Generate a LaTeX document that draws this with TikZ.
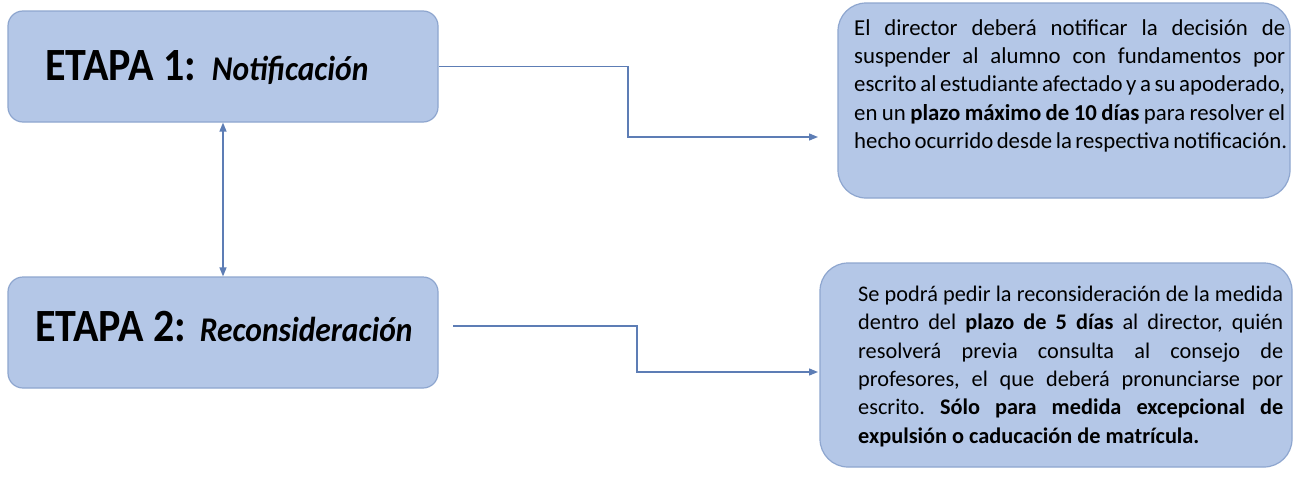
\documentclass[tikz,border=0pt]{standalone}
\usepackage{fontspec}
\setmainfont{Carlito}
\usetikzlibrary{arrows.meta}
\definecolor{boxfill}{HTML}{B4C7E7}
\definecolor{boxline}{HTML}{8EA6CF}
\definecolor{conncol}{HTML}{5D7DB5}
\newcommand{\jline}[1]{\makebox[431pt][s]{#1}}
\newcommand{\kline}[1]{\makebox[425pt][s]{#1}}
\frenchspacing
\begin{document}
\begin{tikzpicture}[x=1pt,y=-1pt,
 stagebox/.style={draw=boxline, fill=boxfill, line width=1.2pt, rounded corners=15pt, minimum width=430pt, minimum height=111pt, inner sep=0pt},
 infobox/.style={draw=boxline, fill=boxfill, line width=1.2pt, rounded corners=28pt, inner sep=0pt},
 conn/.style={draw=conncol, line width=1.3pt, -{Triangle[length=9pt,width=7pt]}},
 dconn/.style={draw=conncol, line width=1.3pt, {Triangle[length=9pt,width=7pt]}-{Triangle[length=9pt,width=7pt]}},
 stagetext/.style={anchor=base west, inner sep=0pt},
 infotext/.style={anchor=base west, inner sep=0pt, align=left}
]
\useasboundingbox (0,0) rectangle (1293,479);
\fill[white] (0,0) rectangle (1293,479);
% boxes
\node[stagebox] (b1) at (223,66.5) {};
\node[stagebox] (b2) at (223,332.5) {};
\node[infobox, minimum width=452pt, minimum height=195pt] (r1) at (1064,100.5) {};
\node[infobox, minimum width=472pt, minimum height=204pt] (r2) at (1056,365) {};
% stage texts
\node[stagetext] (t1) at (45,80) {\scalebox{1}[1.1]{{\fontsize{42}{50}\selectfont\bfseries ETAPA 1:}\hspace{16pt}{\fontsize{31.5}{37}\selectfont\bfseries\itshape Notificación}}};
\node[stagetext] (t2) at (35,341) {\scalebox{1}[1.1]{{\fontsize{42}{50}\selectfont\bfseries ETAPA 2:}\hspace{14pt}{\fontsize{31.5}{37}\selectfont\bfseries\itshape Reconsideración}}};
% info texts
\node[infotext, text width=431pt, font=\fontsize{22.8}{28.4}\selectfont] (i1) at (854,35) {\spaceskip=0pt\xspaceskip=0pt
\jline{El director deberá notificar la decisión de}\\
\jline{suspender al alumno con fundamentos por}\\
\jline{escrito al estudiante afectado y a su apoderado,}\\
\jline{en un \textbf{plazo máximo de 10 días} para resolver el}\\
\jline{hecho ocurrido desde la respectiva notificación.}};
\node[infotext, text width=425pt, font=\fontsize{22.3}{28.3}\selectfont] (i2) at (858,301.5) {\spaceskip=0pt\xspaceskip=0pt
\kline{Se podrá pedir la reconsideración de la medida}\\
\kline{dentro del \textbf{plazo de 5 días} al director, quién}\\
\kline{resolverá previa consulta al consejo de}\\
\kline{profesores, el que deberá pronunciarse por}\\
\kline{escrito. \textbf{Sólo para medida excepcional de}}\\
\textbf{expulsión o caducación de matrícula.}};
% connector coordinates
\coordinate (k1a) at (628,66.5);
\coordinate (k1b) at (628,137);
\coordinate (e1) at (818,137);
\coordinate (s2) at (453,326);
\coordinate (k2a) at (637,326);
\coordinate (k2b) at (637,372);
\coordinate (e2) at (818,372);
\draw[conn] (b1.east) -- (k1a) -- (k1b) -- (e1);
\draw[conn] (s2) -- (k2a) -- (k2b) -- (e2);
\draw[dconn] (b1.south) -- (b2.north);
\end{tikzpicture}
\end{document}
